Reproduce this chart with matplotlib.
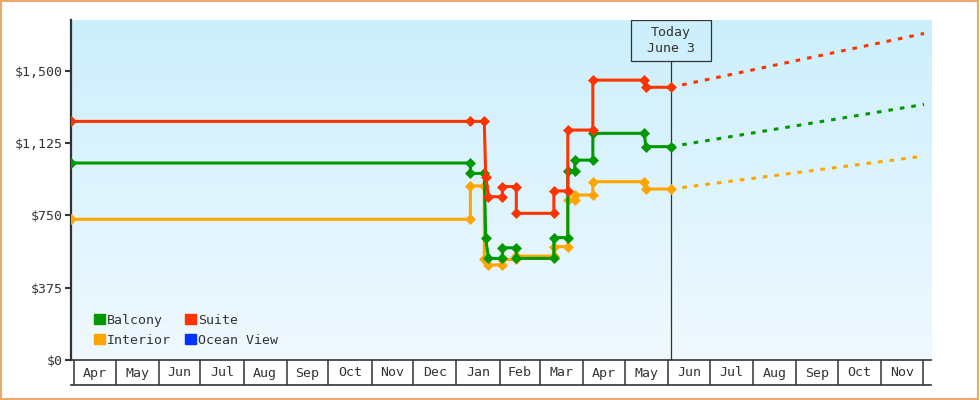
import numpy as np
import pandas as pd
import matplotlib
matplotlib.use("Agg")
import matplotlib.pyplot as plt
import matplotlib.dates as mdates
from matplotlib.colors import LinearSegmentedColormap
from matplotlib.patches import Patch, Rectangle

# --- data ---
balcony_dates = ["2023-03-30", "2024-01-11", "2024-01-11", "2024-01-21", "2024-01-22",
                 "2024-01-24", "2024-02-03", "2024-02-03", "2024-02-13", "2024-02-13",
                 "2024-03-11", "2024-03-11", "2024-03-21", "2024-03-21", "2024-03-26",
                 "2024-03-26", "2024-04-08", "2024-04-08", "2024-05-15", "2024-05-16",
                 "2024-06-03"]
balcony_prices = [1022, 1022, 968, 968, 631,
                  527, 527, 582, 582, 527,
                  527, 635, 635, 980, 980,
                  1037, 1037, 1176, 1176, 1107,
                  1107]

interior_dates = ["2023-03-30", "2024-01-11", "2024-01-11", "2024-01-21", "2024-01-21",
                  "2024-01-24", "2024-02-03", "2024-02-03", "2024-02-13", "2024-02-13",
                  "2024-03-11", "2024-03-11", "2024-03-21", "2024-03-21", "2024-03-26",
                  "2024-03-26", "2024-04-08", "2024-04-08", "2024-05-15", "2024-05-16",
                  "2024-06-03"]
interior_prices = [730, 730, 903, 903, 522,
                   493, 493, 522, 522, 539,
                   539, 588, 588, 830, 830,
                   856, 856, 925, 925, 887,
                   887]

suite_dates = ["2023-03-30", "2024-01-11", "2024-01-21", "2024-01-22", "2024-01-24",
               "2024-02-03", "2024-02-03", "2024-02-13", "2024-02-13", "2024-03-11",
               "2024-03-11", "2024-03-21", "2024-03-21", "2024-04-08", "2024-04-08",
               "2024-05-15", "2024-05-16", "2024-06-03"]
suite_prices = [1238, 1238, 1238, 951, 847,
                847, 900, 900, 761, 761,
                877, 877, 1193, 1193, 1452,
                1452, 1415, 1415]

ocean_view_dates = []
ocean_view_prices = []

today = "2024-06-03"
proj_dates = ["2024-06-03", "2024-12-02"]
balcony_proj = [1107, 1326]
interior_proj = [887, 1058]
suite_proj = [1415, 1694]

y_ticks = [0, 375, 750, 1125, 1500]
y_labels = ["$0", "$375", "$750", "$1,125", "$1,500"]

months = pd.date_range("2023-04-01", "2024-12-01", freq="MS")
month_labels = [m.strftime("%b") for m in months[:-1]]

# --- style ---
plt.rcParams["font.family"] = ["DejaVu Sans Mono"]
dark = "#333333"
fs = 9.5
colors = {"Balcony": "#009900", "Interior": "#ffa500", "Suite": "#ff3300", "Ocean View": "#0033ff"}

fig = plt.figure(figsize=(9.8, 4), dpi=100)
fig.patches.append(Rectangle((0.001, 0.003), 0.997, 0.995, transform=fig.transFigure,
                             fill=False, edgecolor="#e9a96b", lw=1.5))

left, right = 71 / 980, 931 / 980
ax = fig.add_axes([left, 40 / 400, right - left, 340 / 400])

grad = np.linspace(0, 1, 256).reshape(-1, 1)
cmap = LinearSegmentedColormap.from_list("bg", ["#ccefFC", "#f0f9ff"])
ax.imshow(grad, extent=[0, 1, 0, 1], transform=ax.transAxes, aspect="auto", cmap=cmap, zorder=0)

series = [
    ("Interior", interior_dates, interior_prices, interior_proj),
    ("Balcony", balcony_dates, balcony_prices, balcony_proj),
    ("Suite", suite_dates, suite_prices, suite_proj),
]
z = 3
for name, d, p, proj in series:
    c = colors[name]
    ax.plot(pd.to_datetime(proj_dates), proj, color=c, lw=2.2, linestyle=(0, (1.5, 2.3)),
            dash_capstyle="butt", zorder=z)
    ax.plot(pd.to_datetime(d), p, color=c, lw=2.2, marker="D", ms=5.6, mew=0.5, zorder=z + 0.5)
    z += 1
ax.plot(pd.to_datetime(ocean_view_dates), ocean_view_prices, color=colors["Ocean View"])

# today marker
t = mdates.date2num(pd.Timestamp(today))
ax.vlines(pd.Timestamp(today), 0, 1552, color=dark, lw=0.9, zorder=2)
ax.add_patch(Rectangle((t - 28.75, 1552), 57.5, 212, fill=False, edgecolor=dark, lw=0.9, zorder=7))
ax.text(t, 1658, "Today\nJune 3", ha="center", va="center", fontsize=fs, color=dark,
        linespacing=1.35, zorder=8)

ax.set_xlim(pd.Timestamp("2023-03-30"), pd.Timestamp("2024-12-07"))
ax.set_ylim(0, 1764)
ax.set_yticks(y_ticks)
ax.set_yticklabels(y_labels)
ax.tick_params(axis="y", length=4, width=1.5, color=dark, labelcolor=dark, labelsize=fs, pad=2)
ax.tick_params(axis="x", bottom=False, labelbottom=False)
for s in ["top", "right"]:
    ax.spines[s].set_visible(False)
ax.spines["left"].set_color(dark)
ax.spines["left"].set_linewidth(1.6)
ax.spines["bottom"].set_color(dark)
ax.spines["bottom"].set_linewidth(1.2)

handles = [Patch(color=colors[n], label=n) for n in ["Balcony", "Interior", "Suite", "Ocean View"]]
ax.legend(handles=handles, ncol=2, loc="lower left", bbox_to_anchor=(0.0185, 0.02),
          frameon=False, fontsize=fs, handlelength=0.85, handleheight=0.85,
          handletextpad=0.15, columnspacing=1.05, labelspacing=0.52, borderpad=0,
          labelcolor=dark)

# month band under the axis
ax2 = fig.add_axes([left, 15 / 400, right - left, 25 / 400], sharex=ax)
ax2.set_facecolor("none")
ax2.vlines(months, 0, 1, color=dark, lw=1.1)
mids = months[:-1] + (months[1:] - months[:-1]) / 2
for m, lab in zip(mids, month_labels):
    ax2.text(m, 0.48, lab, ha="center", va="center", fontsize=fs, color=dark)
ax2.set_ylim(0, 1)
ax2.set_yticks([])
ax2.tick_params(axis="x", bottom=False, labelbottom=False)
for s in ["left", "right", "top"]:
    ax2.spines[s].set_visible(False)
ax2.spines["bottom"].set_color(dark)
ax2.spines["bottom"].set_linewidth(1.2)

fig.savefig("out.png", dpi=100)
